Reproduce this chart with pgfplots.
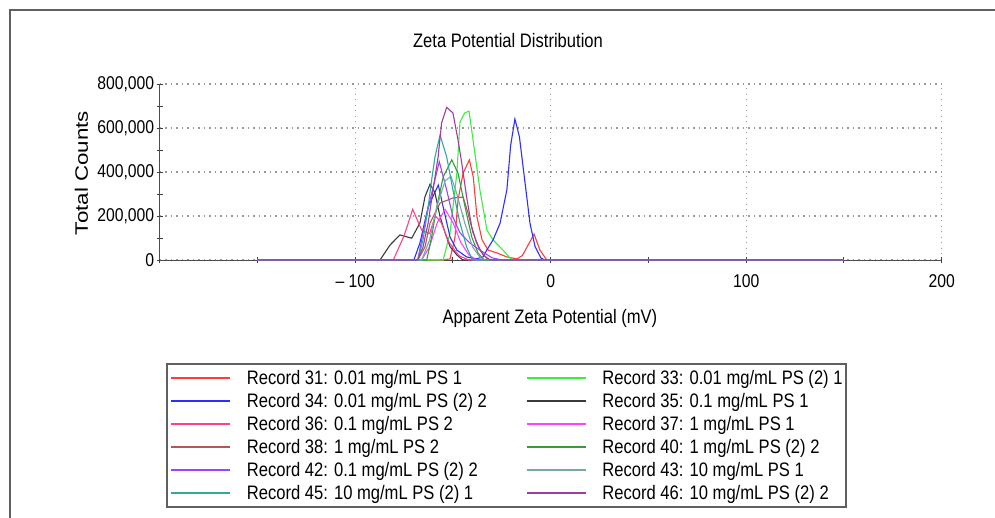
\documentclass[border=0pt]{standalone}
\usepackage{fontspec}
\setmainfont{Liberation Sans}[FakeStretch=0.85]
\newfontfamily\ylfont{Liberation Sans}[FakeStretch=1.24]
\usepackage{pgfplots}
\pgfplotsset{compat=1.18}
\definecolor{c31}{HTML}{FF3B3B}
\definecolor{c33}{HTML}{3CEE3C}
\definecolor{c34}{HTML}{2E2EFF}
\definecolor{c35}{HTML}{3A3A3A}
\definecolor{c36}{HTML}{FF3F8F}
\definecolor{c37}{HTML}{FF44FF}
\definecolor{c38}{HTML}{B05858}
\definecolor{c40}{HTML}{3A9A3A}
\definecolor{c42}{HTML}{9B44FF}
\definecolor{c43}{HTML}{74A8AE}
\definecolor{c45}{HTML}{30A8A0}
\definecolor{c46}{HTML}{A03CA0}
\newcommand{\lc}[1]{\makebox[270bp][l]{#1}}
\begin{document}
\begin{tikzpicture}
\useasboundingbox (0,0) rectangle (995bp,518bp);
\draw[gray!75!black, line width=2bp] (10bp,0bp) -- (10bp,508bp) -- (995bp,508bp);
\begin{axis}[
  clip=false,
  at={(159.7bp,258bp)}, anchor=south west,
  scale only axis, width=782bp, height=176bp,
  xmin=-200, xmax=200, ymin=0, ymax=800000,
  axis x line*=bottom, axis y line*=left,
  axis line style={black!70, line width=1bp},
  font=\fontsize{19.5bp}{22bp}\selectfont,
  tick label style={font=\fontsize{18.5bp}{21bp}\selectfont},
  scaled y ticks=false,
  xtick={-100,0,100,200}, xticklabels={– 100,0,100,200},
  minor xtick={-200,-150,-50,50,150},
  ytick={0,200000,400000,600000,800000},
  yticklabels={{0},{200,000},{400,000},{600,000},{800,000}},
  minor ytick={100000,300000,500000,700000},
  tick align=center, major tick length=6bp, minor tick length=6bp,
  tick style={black!75, line width=1bp},
  grid=major,
  major grid style={gray!80, line width=1.3bp, dash pattern=on 1.3bp off 4.2bp},
  xticklabel style={yshift=-8bp},
  yticklabel style={xshift=1bp},
  title={Zeta Potential Distribution},
  title style={at={(axis description cs:0.4454,1.215)}, anchor=center},
  xlabel={Apparent Zeta Potential (mV)},
  xlabel style={at={(axis description cs:0.499,-0.3295)}, anchor=center},
  ylabel={\ylfont\fontsize{18bp}{20bp}\selectfont Total Counts},
  ylabel style={at={(axis description cs:-0.1,0.494)}, anchor=center, rotate=0},
  legend columns=2,
  legend image code/.code={\draw[#1, line width=1.6bp] (0bp,0bp) -- (59bp,0bp);},
  legend style={at={(axis description cs:0.008,-0.585)}, anchor=north west,
    draw=gray!75!black, line width=1.6bp, inner xsep=3.5bp, inner ysep=5bp,
    font=\fontsize{19.5bp}{22bp}\selectfont, row sep=5bp,
    nodes={inner sep=0pt, text height=16bp, text depth=2bp},
    cells={anchor=west},
    /tikz/every odd column/.style={column sep=16bp},
    /tikz/every even column/.style={column sep=9bp}},
  every axis plot/.append style={line width=1.1bp},
]
\addplot[c31] coordinates {(-150,0)(-55,0)(-51.5,5000)(-49,100000)(-47.4,273000)(-44.8,395000)(-41.6,455000)(-39.6,377000)(-37.7,195000)(-35.1,91000)(-32,45000)(-27.5,32000)(-22.4,14000)(-17.2,5000)(-14.5,20000)(-12.1,59000)(-8.5,118000)(-5.5,45000)(-2,0)(150,0)};
\addlegendentry{\lc{Record 31: 0.01 mg/mL PS 1}}
\addplot[c33] coordinates {(-150,0)(-55,0)(-51.5,123000)(-48,395000)(-46.4,627000)(-44,668000)(-41.8,677000)(-39.7,545000)(-36.2,318000)(-32.6,136000)(-29.5,91000)(-24.4,45000)(-20.8,9000)(-19,0)(150,0)};
\addlegendentry{Record 33: 0.01 mg/mL PS (2) 1}
\addplot[c34] coordinates {(-150,0)(-70,0)(-66.9,77000)(-62.7,241000)(-57.5,341000)(-55,241000)(-51.5,105000)(-48,45000)(-43,14000)(-38,5000)(-34.6,14000)(-32.7,45000)(-29.5,91000)(-25.9,167000)(-22.4,320000)(-20.5,520000)(-18.3,641000)(-16,560000)(-12.7,320000)(-10.6,167000)(-8,61000)(-5,9000)(-3,0)(150,0)};
\addlegendentry{\lc{Record 34: 0.01 mg/mL PS (2) 2}}
\addplot[c35] coordinates {(-150,0)(-87.3,0)(-82.2,68000)(-77.1,114000)(-71.1,99000)(-66.9,168000)(-64.3,288000)(-61.7,345000)(-59.2,305000)(-56.6,197000)(-54,123000)(-51.5,61000)(-48,23000)(-45,0)(150,0)};
\addlegendentry{Record 35: 0.1 mg/mL PS 1}
\addplot[c36] coordinates {(-150,0)(-80.5,0)(-75,110000)(-70.6,230000)(-66,136000)(-62,120000)(-59,200000)(-56,170000)(-52,80000)(-47,20000)(-42,0)(150,0)};
\addlegendentry{\lc{Record 36: 0.1 mg/mL PS 2}}
\addplot[c37] coordinates {(-150,0)(-66,0)(-62,60000)(-58,170000)(-54,230000)(-50,170000)(-46,80000)(-42,25000)(-38,0)(150,0)};
\addlegendentry{Record 37: 1 mg/mL PS 1}
\addplot[c38] coordinates {(-150,0)(-68,0)(-64.3,59000)(-61.7,168000)(-56.6,259000)(-50,282000)(-44.8,286000)(-42.3,214000)(-39.7,123000)(-36.2,45000)(-32,0)(150,0)};
\addlegendentry{\lc{Record 38: 1 mg/mL PS 2}}
\addplot[c40] coordinates {(-150,0)(-63.4,0)(-61,100000)(-58.3,241000)(-55,377000)(-50.6,455000)(-47.4,395000)(-43.8,241000)(-40.4,105000)(-37.2,32000)(-34,0)(150,0)};
\addlegendentry{Record 40: 1 mg/mL PS (2) 2}
\addplot[c42] coordinates {(-150,0)(-68,0)(-65.3,123000)(-61.7,273000)(-57,447000)(-53.2,318000)(-50,195000)(-46.4,123000)(-41.3,77000)(-36.2,45000)(-30,10000)(-25,0)(150,0)};
\addlegendentry{\lc{Record 42: 0.1 mg/mL PS (2) 2}}
\addplot[c43] coordinates {(-150,0)(-66,0)(-62,90000)(-58,250000)(-54,360000)(-51,380000)(-48,300000)(-44,170000)(-40,60000)(-36,10000)(-33,0)(150,0)};
\addlegendentry{Record 43: 10 mg/mL PS 1}
\addplot[c45] coordinates {(-150,0)(-68,0)(-65.3,91000)(-62.7,241000)(-60.9,364000)(-59.2,468000)(-56.6,568000)(-53.2,468000)(-50,318000)(-46.4,168000)(-43,59000)(-40,0)(150,0)};
\addlegendentry{\lc{Record 45: 10 mg/mL PS (2) 1}}
\addplot[c46] coordinates {(-150,0)(-68,0)(-65.3,59000)(-62.7,168000)(-60.2,318000)(-57.6,468000)(-55.8,623000)(-53.2,694000)(-50,668000)(-47.4,545000)(-45.5,441000)(-43,286000)(-40.4,150000)(-37.9,77000)(-34.6,23000)(-31,0)(150,0)};
\addlegendentry{Record 46: 10 mg/mL PS (2) 2}
\end{axis}
\end{tikzpicture}
\end{document}
